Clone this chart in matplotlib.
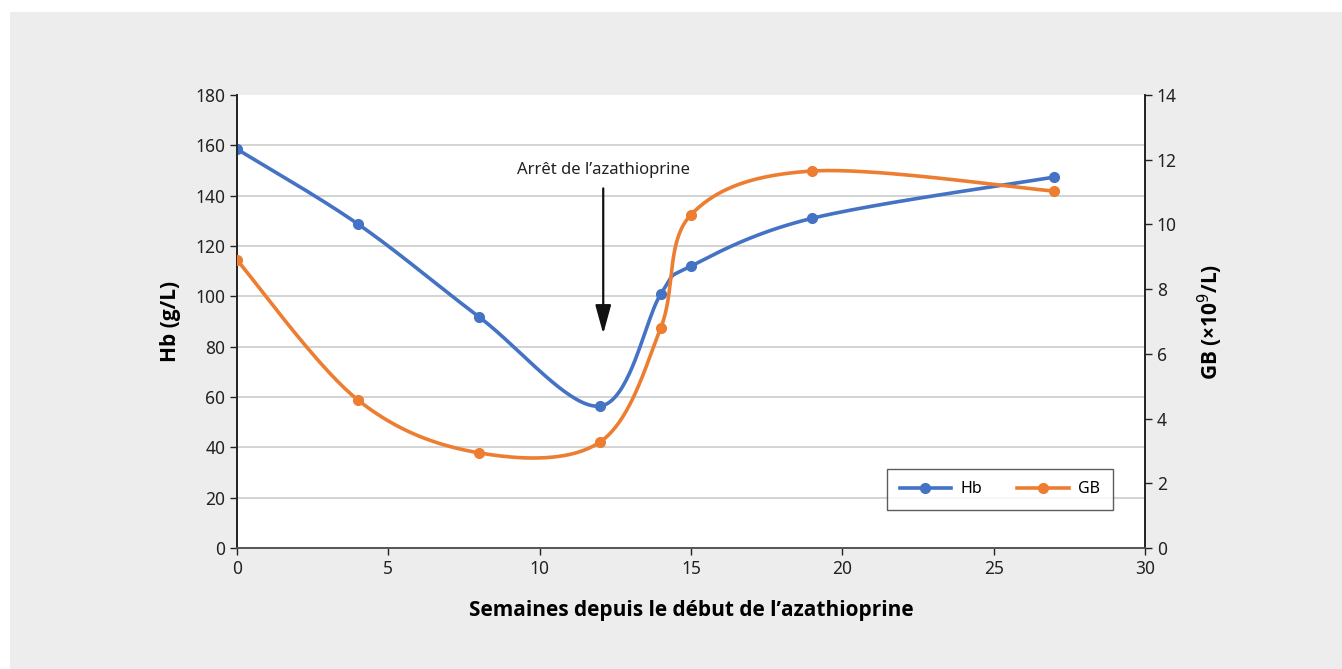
import matplotlib.pyplot as plt
import numpy as np
from matplotlib.patches import Rectangle

weeks = [0, 4, 8, 12, 14, 15, 19, 27]
hb = [158.5, 128.7, 91.8, 56.4, 100.9, 112, 131, 147.4]
gb = [8.9, 4.57, 2.94, 3.28, 6.8, 10.3, 11.65, 11.03]

blue = '#4472C4'
orange = '#ED7D31'

plt.rcParams['font.family'] = ['Noto Sans', 'DejaVu Sans']
bold_font = ['Open Sans', 'Lato', 'DejaVu Sans']


def smooth(x, y, xmax, ymax, n=40):
    # Excel-like smoothed line: Catmull-Rom Bezier computed in axis fractions
    px = np.array(x, float) / xmax
    py = np.array(y, float) / ymax
    pts = np.column_stack([px, py])
    out = []
    for i in range(len(pts) - 1):
        p0 = pts[i - 1] if i > 0 else pts[i]
        p1 = pts[i]
        p2 = pts[i + 1]
        p3 = pts[i + 2] if i + 2 < len(pts) else pts[i + 1]
        c1 = p1 + (p2 - p0) / 6
        c2 = p2 - (p3 - p1) / 6
        t = np.linspace(0, 1, n)[:, None]
        seg = ((1 - t) ** 3) * p1 + 3 * ((1 - t) ** 2) * t * c1 + 3 * (1 - t) * t ** 2 * c2 + t ** 3 * p2
        out.append(seg if i == 0 else seg[1:])
    out = np.vstack(out)
    return out[:, 0] * xmax, out[:, 1] * ymax


fig = plt.figure(figsize=(13.42, 6.69), dpi=100, facecolor='white')
fig.patches.append(Rectangle((10 / 1342, 0), 1, 1 - 12 / 669, transform=fig.transFigure,
                             facecolor='#ededed', edgecolor='none', zorder=-10))

ax = fig.add_axes([237 / 1342, 1 - 548 / 669, 908 / 1342, 453 / 669])
ax.set_facecolor('white')
ax2 = ax.twinx()

ax.set_xlim(0, 30)
ax.set_ylim(0, 180)
ax2.set_ylim(0, 14)
ax.set_yticks(range(0, 181, 20))
ax2.set_yticks(range(0, 15, 2))
ax.set_xticks(range(0, 31, 5))
ax.grid(axis='y', color='#d0d0d0', linewidth=1.3)
ax.get_ygridlines()[-1].set_visible(False)
ax.set_axisbelow(True)

hx, hy = smooth(weeks, hb, 30, 180)
gx, gy = smooth(weeks, gb, 30, 14)
ax.plot(hx, hy, color=blue, lw=2.6, zorder=3)
ax.plot(weeks, hb, 'o', color=blue, ms=7, zorder=3)
ax2.plot(gx, gy, color=orange, lw=2.6, zorder=3)
ax2.plot(weeks, gb, 'o', color=orange, ms=7, zorder=3)

for a in (ax, ax2):
    a.spines['top'].set_visible(False)
    for s in ('left', 'right'):
        a.spines[s].set_color('#222222')
        a.spines[s].set_linewidth(1.2)
    a.spines['bottom'].set_color('#555555')
    a.spines['bottom'].set_linewidth(1.2)
    a.tick_params(labelsize=12.5, colors='#222222', length=5, width=1.0, direction='out')

ax.set_xlabel('Semaines depuis le début de l’azathioprine', fontsize=15, fontweight='bold',
              family=bold_font, labelpad=16)
ax.set_ylabel('Hb (g/L)', fontsize=15, fontweight='bold', family=bold_font, labelpad=10)
ax2.set_ylabel('GB (×10$^9$/L)', fontsize=15, fontweight='bold', family=bold_font, labelpad=14)

ax.annotate('', xy=(12.1, 84), xytext=(12.1, 144),
            arrowprops=dict(arrowstyle='-|>,head_width=0.22,head_length=0.8', color='#111111',
                            lw=1.6, mutation_scale=22))
ax.text(12.1, 150, 'Arrêt de l’azathioprine', ha='center', va='center', fontsize=12, color='#222222')

h1, = ax.plot([], [], '-o', color=blue, lw=2.6, ms=7)
h2, = ax.plot([], [], '-o', color=orange, lw=2.6, ms=7)
leg = ax2.legend([h1, h2], ['Hb', 'GB'], ncol=2, loc='center',
                 bbox_to_anchor=((1000 - 237) / 908, (548 - 489.5) / 453),
                 fontsize=11.5, frameon=True, fancybox=False, borderpad=0.8,
                 handlelength=3.2, handletextpad=0.6, columnspacing=2.2, borderaxespad=0)
leg.get_frame().set_edgecolor('#333333')
leg.get_frame().set_linewidth(1.0)

fig.savefig('out.png', dpi=100)
